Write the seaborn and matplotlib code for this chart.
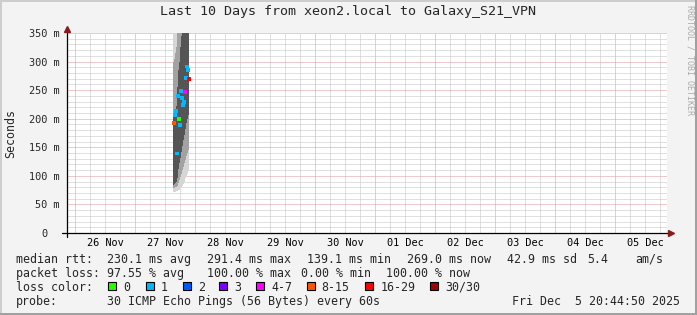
import matplotlib
matplotlib.use("Agg")
import numpy as np
import pandas as pd
import matplotlib.pyplot as plt
import matplotlib.dates as mdates
from matplotlib.ticker import MultipleLocator, FuncFormatter, NullFormatter
from matplotlib.patches import Rectangle
from matplotlib.lines import Line2D
from matplotlib.transforms import ScaledTranslation
import seaborn as sns

# ---------------- data ----------------
sample_times = ["2025-11-27 15:12", "2025-11-27 15:36", "2025-11-27 16:00", "2025-11-27 16:24",
                "2025-11-27 16:48", "2025-11-27 17:12", "2025-11-27 17:36", "2025-11-27 18:00",
                "2025-11-27 18:24", "2025-11-27 18:48", "2025-11-27 19:12", "2025-11-27 19:36",
                "2025-11-27 20:00", "2025-11-27 20:24", "2025-11-27 20:48", "2025-11-27 21:12"]
median_ms = [192, 206.5, 213.5, 139.1, 240, 199, 189, 248.5, 237, 224, 229, 247, 271, 291.4, 285, 269]
loss_class = ["8-15", "1", "1", "1", "1", "0", "1", "1", "1", "1", "1", "4-7", "1", "1", "1", "16-29"]
smoke_min = [72, 72, 72, 73, 74, 75, 76, 78, 80, 82, 86, 90, 96, 100, 104, 108]
smoke_p10 = [78, 78, 80, 80, 82, 88, 92, 98, 104, 110, 116, 122, 128, 134, 140, 145]
smoke_p25 = [84, 86, 88, 90, 96, 112, 122, 132, 142, 152, 162, 172, 182, 192, 200, 206]
smoke_p75 = [205, 210, 215, 222, 255, 285, 300, 325, 345, 360, 370, 380, 390, 400, 405, 410]
smoke_p90 = [300, 305, 315, 325, 350, 370, 385, 395, 410, 420, 430, 440, 450, 455, 465, 470]
smoke_max = [420, 430, 440, 450, 470, 480, 490, 500, 520, 530, 540, 550, 560, 560, 570, 580]

loss_labels = ["0", "1", "2", "3", "4-7", "8-15", "16-29", "30/30"]
loss_colors = ["#26ff00", "#00b8ff", "#0059ff", "#7e00ff", "#ff00ff", "#ff5500", "#ff0000", "#a10000"]

end_time = "2025-12-05 20:44:50"
span_days = 10
y_max = 350
title = "Last 10 Days from xeon2.local to Galaxy_S21_VPN"
ylabel = "Seconds"

rtt_stats = ["230.1 ms avg", "291.4 ms max", "139.1 ms min", "269.0 ms now", "42.9 ms sd", "5.4", "am/s"]
loss_stats = ["97.55 % avg", "100.00 % max", "0.00 % min", "100.00 % now"]
probe_text = "30 ICMP Echo Pings (56 Bytes) every 60s"
stamp_text = "Fri Dec  5 20:44:50 2025"
watermark = "RRDTOOL / TOBI OETIKER"

# ---------------- style ----------------
W, H = 697, 315
BG = "#f3f3f3"
MONO = ["DejaVu Sans Mono"]
sns.set_style("white")
plt.rcParams["font.family"] = MONO
plt.rcParams["lines.scale_dashes"] = True

fig = plt.figure(figsize=(W / 100, H / 100), dpi=100, facecolor=BG)
ax = fig.add_axes([67 / W, (H - 233) / H, 600 / W, 200 / H])
ax.set_facecolor("white")

t = pd.to_datetime(sample_times)
col_w = pd.Timedelta(minutes=24)
df = pd.DataFrame({"t": t, "tc": t + col_w / 2, "median": median_ms, "loss": loss_class})

# smoke (nested bands, darker towards the middle of the distribution)
for lo, hi, c in [(smoke_min, smoke_max, "#d6d6d6"),
                  (smoke_p10, smoke_p90, "#a2a2a2"),
                  (smoke_p25, smoke_p75, "#555555")]:
    lo = np.array(lo, float); hi = np.array(hi, float)
    ax.bar(t, hi - lo, bottom=lo, width=col_w, align="edge", color=c, linewidth=0, zorder=2)

palette = dict(zip(loss_labels, loss_colors))
sns.scatterplot(data=df, x="tc", y="median", hue="loss", palette=palette, marker="s",
                s=8, linewidth=0, legend=False, ax=ax, zorder=3)

end = pd.Timestamp(end_time)
start = end - pd.Timedelta(days=span_days)
ax.set_xlim(start, end)
ax.set_ylim(0, y_max)
ax.set_xlabel("")
ax.set_ylabel("")

# grid & ticks
ax.xaxis.set_major_locator(mdates.DayLocator())
ax.xaxis.set_major_formatter(NullFormatter())
ax.xaxis.set_minor_locator(mdates.HourLocator(byhour=[6, 12, 18]))
ax.xaxis.set_minor_formatter(FuncFormatter(
    lambda v, p: mdates.num2date(v).strftime("%d %b") if mdates.num2date(v).hour == 12 else ""))
ax.yaxis.set_major_locator(MultipleLocator(50))
ax.yaxis.set_minor_locator(MultipleLocator(10))
ax.yaxis.set_major_formatter(FuncFormatter(lambda v, p: f"{int(round(v))} m" if v else "0"))

dot = (0, (1, 1))
ax.grid(which="minor", color="#c2c2c2", linestyle=dot, linewidth=0.72, zorder=0)
ax.grid(which="major", color="#e39696", linestyle=dot, linewidth=0.72, zorder=0)
ax.set_axisbelow(True)

ax.tick_params(axis="x", which="major", direction="out", length=2.2, width=0.72, color="#e08080")
ax.tick_params(axis="x", which="minor", direction="out", length=1.5, width=0.72, color="#bbbbbb",
               labelsize=7.4, pad=2.0, labelcolor="black")
ax.tick_params(axis="y", which="major", direction="out", length=2.2, width=0.72, color="black",
               labelsize=7.4, pad=3.0)
ax.tick_params(axis="y", which="minor", direction="out", length=1.5, width=0.72, color="#bbbbbb")
for s in ax.spines.values():
    s.set_visible(False)

# axis lines with arrows
ax.add_line(Line2D([-5 / 600, 1.003], [0, 0], transform=ax.transAxes, color="black", lw=0.9, clip_on=False, zorder=5))
ax.add_line(Line2D([0, 0], [-4 / 200, 1.015], transform=ax.transAxes, color="black", lw=0.9, clip_on=False, zorder=5))
ax.plot([1.006], [0], marker=">", ms=4, color="#8b1a1a", transform=ax.transAxes, clip_on=False, zorder=6)
ax.plot([0], [1.02], marker="^", ms=4, color="#8b1a1a", transform=ax.transAxes, clip_on=False, zorder=6)

ax.set_ylabel(ylabel, fontsize=8.4)
ax.yaxis.set_label_coords(-49.5 / 600, 0.5)

fig.canvas.draw()
for lbl in ax.get_yticklabels():
    if lbl.get_text() == "0":
        lbl.set_transform(lbl.get_transform() + ScaledTranslation(-12 / 100, 0, fig.dpi_scale_trans))

# title & watermark
fig.text(0.5, 1 - 12 / H, title, ha="center", va="center", fontsize=9.6)
fig.text(690 / W, 1 - 5 / H, watermark, rotation=270, ha="center", va="top", fontsize=6.0, color="#ababab")

# legend text
def ftext(x, y, s, **kw):
    fig.text(x / W, 1 - y / H, s, ha=kw.pop("ha", "left"), va="center", fontsize=8.4, **kw)

ftext(16, 259.5, "median rtt:")
for x, s in zip([107.3, 207.3, 307.3, 407.3, 507.3, 587.3, 635.7], rtt_stats):
    ftext(x, 259.5, s)
ftext(16, 273.5, "packet loss:")
for x, s in zip([107.3, 207.3, 301, 386], loss_stats):
    ftext(x, 273.5, s)
ftext(16, 287.5, "loss color:")
box_x = [108.3, 146, 182.7, 219.3, 256, 306.7, 365.3, 430]
for bx, lab, col in zip(box_x, loss_labels, loss_colors):
    fig.add_artist(Rectangle((bx / W, 1 - 289.5 / H), 8 / W, 8 / H, transform=fig.transFigure,
                             facecolor=col, edgecolor="black", linewidth=0.8))
    ftext(bx + 15, 287.5, lab)
ftext(16, 301.5, "probe:")
ftext(107.3, 301.5, probe_text)
ftext(680, 301.5, stamp_text, ha="right")

# frame
fig.add_artist(Line2D([0, 1], [1 - 1 / H, 1 - 1 / H], transform=fig.transFigure, color="#cdcdcd", lw=1.44))
fig.add_artist(Line2D([1 / W, 1 / W], [0, 1], transform=fig.transFigure, color="#cdcdcd", lw=1.44))
fig.add_artist(Line2D([0, 1], [1 / H, 1 / H], transform=fig.transFigure, color="#a0a0a0", lw=1.44))
fig.add_artist(Line2D([1 - 1 / W, 1 - 1 / W], [0, 1], transform=fig.transFigure, color="#a0a0a0", lw=1.44))

fig.savefig("out.png", dpi=100, facecolor=BG)
